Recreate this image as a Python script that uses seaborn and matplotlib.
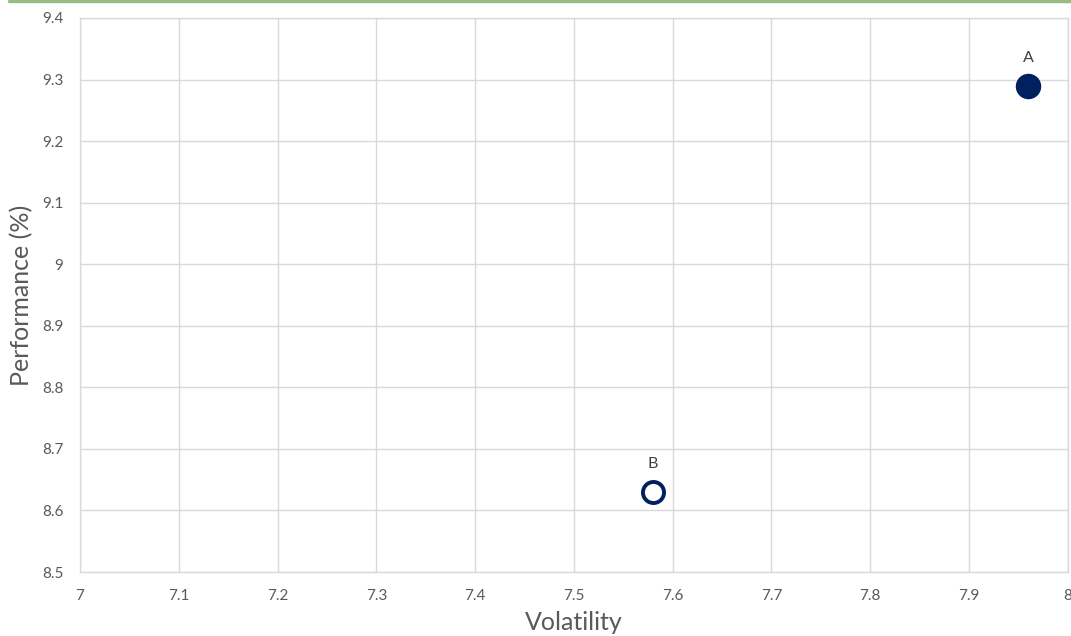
import matplotlib
matplotlib.use("Agg")
import matplotlib.pyplot as plt
import pandas as pd
import seaborn as sns
from matplotlib.lines import Line2D

# data
names = ["A", "B"]
volatility = [7.96, 7.58]
performance = [9.29, 8.63]
filled = [True, False]

x_ticks = [7, 7.1, 7.2, 7.3, 7.4, 7.5, 7.6, 7.7, 7.8, 7.9, 8]
x_tick_labels = ["7", "7.1", "7.2", "7.3", "7.4", "7.5", "7.6", "7.7", "7.8", "7.9", "8"]
y_ticks = [8.5, 8.6, 8.7, 8.8, 8.9, 9.0, 9.1, 9.2, 9.3, 9.4]
y_tick_labels = ["8.5", "8.6", "8.7", "8.8", "8.9", "9", "9.1", "9.2", "9.3", "9.4"]

df = pd.DataFrame({"name": names, "vol": volatility, "perf": performance, "filled": filled})

sns.set_theme(style="white")
plt.rcParams["font.family"] = ["Lato", "DejaVu Sans"]

navy = "#002060"
fig = plt.figure(figsize=(10.71, 6.36), dpi=100)
ax = fig.add_axes([0.0747, 0.1006, 0.9223, 0.8711])

sns.scatterplot(data=df[df["filled"]], x="vol", y="perf", s=300, color=navy,
                edgecolor=navy, linewidth=1, ax=ax, zorder=3)
sns.scatterplot(data=df[~df["filled"]], x="vol", y="perf", s=230, facecolor="white",
                edgecolor=navy, linewidth=2.8, ax=ax, zorder=3)

for n, xv, yv in zip(df["name"], df["vol"], df["perf"]):
    ax.annotate(n, (xv, yv), xytext=(0, 15), textcoords="offset points",
                ha="center", va="bottom", fontsize=11.5, color="#404040")

ax.set_xlim(7, 8)
ax.set_ylim(8.5, 9.4)
ax.set_xticks(x_ticks)
ax.set_xticklabels(x_tick_labels)
ax.set_yticks(y_ticks)
ax.set_yticklabels(y_tick_labels)
ax.tick_params(axis="x", length=0, pad=12, labelsize=11, labelcolor="#595959")
ax.tick_params(axis="y", length=0, pad=12, labelsize=11, labelcolor="#595959")
ax.grid(True, color="#d9d9d9", linewidth=1)
for side in ["top", "right", "bottom", "left"]:
    ax.spines[side].set_color("#d9d9d9")
    ax.spines[side].set_linewidth(1)

ax.set_xlabel("Volatility", fontsize=18, color="#595959", labelpad=6)
ax.set_ylabel("Performance (%)", fontsize=18, color="#595959", labelpad=6)

# thin green rule along the top
fig.add_artist(Line2D([0.008, 1.0], [0.998, 0.998], transform=fig.transFigure,
                      color="#9bbb84", linewidth=2.5))

fig.savefig("out.png", dpi=100)
